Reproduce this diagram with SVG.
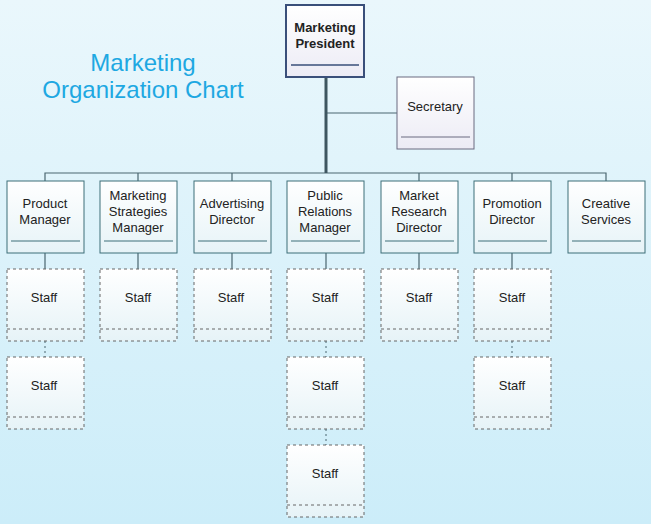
<svg xmlns="http://www.w3.org/2000/svg" width="651" height="524" viewBox="0 0 651 524">
<defs>
<linearGradient id="bg" x1="0" y1="0" x2="0" y2="1"><stop offset="0" stop-color="#eaf7fc"/><stop offset="1" stop-color="#ccedf9"/></linearGradient>
<linearGradient id="nf" x1="0" y1="0" x2="0" y2="1"><stop offset="0" stop-color="#ffffff"/><stop offset="1" stop-color="#e6f3f7"/></linearGradient>
<linearGradient id="pf" x1="0" y1="0" x2="0" y2="1"><stop offset="0" stop-color="#ffffff"/><stop offset="1" stop-color="#ecebf5"/></linearGradient>
</defs>
<style>
text{font-family:"Liberation Sans",Arial,sans-serif;font-size:13px;fill:#222;text-anchor:middle}
.m rect{fill:url(#nf);stroke:#3c6e78;stroke-width:1}
.m line{stroke:#3c6e78;stroke-width:1}
.s rect{fill:url(#nf);stroke:#666;stroke-width:1;stroke-dasharray:3,3}
.s line{stroke:#666;stroke-width:1;stroke-dasharray:3,3}
.c{stroke:#4a6670;fill:none;stroke-width:1.2}
.d{stroke:#4a6670;fill:none;stroke-dasharray:2,3}
</style>
<rect width="651" height="524" fill="url(#bg)"/>
<text x="143" y="71" style="font-size:24px;fill:#1ea8e2">Marketing</text>
<text x="143" y="98" style="font-size:24px;fill:#1ea8e2">Organization Chart</text>
<g id="connectors">
<path class="c" d="M45 181V173H606V181M138 173V181M232 173V181M419 173V181M512 173V181"/>
<path class="c" d="M326 113H397"/>
<path class="c" d="M326 77V173" style="stroke-width:3;stroke:#3e5660"/>
<path class="c" d="M45 253V269M138 253V269M232 253V269M326 253V269M419 253V269M512 253V269"/>
<path class="d" d="M45 341V357M326 341V357M326 429V445M512 341V357"/>
</g>
<g id="president" class="m"><rect x="286" y="5" width="78" height="72" style="stroke:#3a4f7a;stroke-width:2;fill:url(#pf)"/><line x1="291" y1="65" x2="359" y2="65" style="stroke:#3a4f7a;stroke-width:1.5"/><text x="325" y="32" style="font-weight:bold">Marketing</text><text x="325" y="48" style="font-weight:bold">President</text></g>
<g id="secretary" class="m"><rect x="397" y="77" width="77" height="72" style="stroke:#6a6a80;fill:url(#pf)"/><line x1="401" y1="137" x2="470" y2="137" style="stroke:#6a6a80"/><text x="435" y="111">Secretary</text></g>
<g id="product" class="m"><rect x="7" y="181" width="77" height="72"/><line x1="11" y1="241" x2="80" y2="241"/><text x="45" y="208">Product</text><text x="45" y="224">Manager</text></g>
<g id="strategies" class="m"><rect x="100" y="181" width="77" height="72"/><line x1="104" y1="241" x2="173" y2="241"/><text x="138" y="200">Marketing</text><text x="138" y="216">Strategies</text><text x="138" y="232">Manager</text></g>
<g id="advertising" class="m"><rect x="194" y="181" width="77" height="72"/><line x1="198" y1="241" x2="267" y2="241"/><text x="232" y="208">Advertising</text><text x="232" y="224">Director</text></g>
<g id="pr" class="m"><rect x="287" y="181" width="77" height="72"/><line x1="291" y1="241" x2="360" y2="241"/><text x="325" y="200">Public</text><text x="325" y="216">Relations</text><text x="325" y="232">Manager</text></g>
<g id="research" class="m"><rect x="381" y="181" width="77" height="72"/><line x1="385" y1="241" x2="454" y2="241"/><text x="419" y="200">Market</text><text x="419" y="216">Research</text><text x="419" y="232">Director</text></g>
<g id="promotion" class="m"><rect x="474" y="181" width="77" height="72"/><line x1="478" y1="241" x2="547" y2="241"/><text x="512" y="208">Promotion</text><text x="512" y="224">Director</text></g>
<g id="creative" class="m"><rect x="568" y="181" width="77" height="72"/><line x1="572" y1="241" x2="641" y2="241"/><text x="606" y="208">Creative</text><text x="606" y="224">Services</text></g>
<g id="staff1a" class="s"><rect x="7" y="269" width="77" height="72"/><line x1="7" y1="329" x2="84" y2="329"/><text x="44" y="302">Staff</text></g>
<g id="staff1b" class="s"><rect x="7" y="357" width="77" height="72"/><line x1="7" y1="417" x2="84" y2="417"/><text x="44" y="390">Staff</text></g>
<g id="staff2" class="s"><rect x="100" y="269" width="77" height="72"/><line x1="100" y1="329" x2="177" y2="329"/><text x="138" y="302">Staff</text></g>
<g id="staff3" class="s"><rect x="194" y="269" width="77" height="72"/><line x1="194" y1="329" x2="271" y2="329"/><text x="231" y="302">Staff</text></g>
<g id="staff4a" class="s"><rect x="287" y="269" width="77" height="72"/><line x1="287" y1="329" x2="364" y2="329"/><text x="325" y="302">Staff</text></g>
<g id="staff4b" class="s"><rect x="287" y="357" width="77" height="72"/><line x1="287" y1="417" x2="364" y2="417"/><text x="325" y="390">Staff</text></g>
<g id="staff4c" class="s"><rect x="287" y="445" width="77" height="72"/><line x1="287" y1="505" x2="364" y2="505"/><text x="325" y="478">Staff</text></g>
<g id="staff5" class="s"><rect x="381" y="269" width="77" height="72"/><line x1="381" y1="329" x2="458" y2="329"/><text x="419" y="302">Staff</text></g>
<g id="staff6a" class="s"><rect x="474" y="269" width="77" height="72"/><line x1="474" y1="329" x2="551" y2="329"/><text x="512" y="302">Staff</text></g>
<g id="staff6b" class="s"><rect x="474" y="357" width="77" height="72"/><line x1="474" y1="417" x2="551" y2="417"/><text x="512" y="390">Staff</text></g>
</svg>
